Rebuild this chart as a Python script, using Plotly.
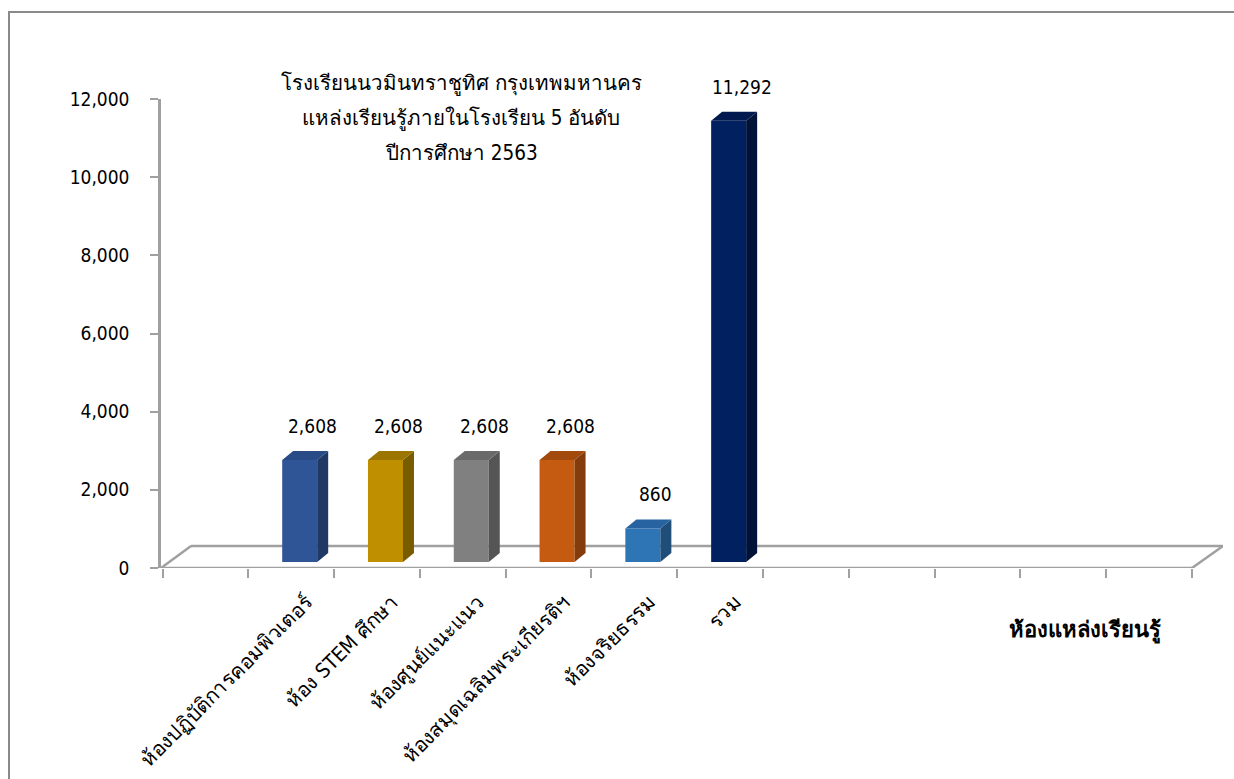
import plotly.graph_objects as go

# ---------------- data ----------------
categories = [
    "ห้องปฏิบัติการคอมพิวเตอร์",
    "ห้อง STEM ศึกษา",
    "ห้องศูนย์แนะแนว",
    "ห้องสมุดเฉลิมพระเกียรติฯ",
    "ห้องจริยธรรม",
    "รวม",
]
values = [2608, 2608, 2608, 2608, 860, 11292]
front_colors = ["#2F5597", "#BF8F00", "#808080", "#C55A11", "#2E75B6", "#002060"]
top_colors = ["#284A86", "#9C7400", "#6A6A6A", "#A2490D", "#2663A0", "#001A50"]
side_colors = ["#203864", "#7A5C00", "#555555", "#843C0C", "#1F4E79", "#001238"]
title_lines = [
    "โรงเรียนนวมินทราชูทิศ กรุงเทพมหานคร",
    "แหล่งเรียนรู้ภายในโรงเรียน 5 อันดับ",
    "ปีการศึกษา 2563",
]
axis_title = "ห้องแหล่งเรียนรู้"
y_tickvals = [0, 2000, 4000, 6000, 8000, 10000, 12000]
n_slots = 12          # category slots on the axis (first slot empty)
first_slot = 1

# ---------------- layout geometry (pixels) ----------------
W, H = 1234, 779
PL, PR, PT, PB = 161, 1223, 99, 568
X0_PX, X12_PX = 162.5, 1192.0
ux = (X12_PX - X0_PX) / n_slots            # px per category
x_min = -(X0_PX - PL) / ux
x_max = n_slots + (PR - X12_PX) / ux
Y_MAX = 12000
uy = (PB - PT) / Y_MAX                    # px per value unit
base_off = 6 / uy                         # bars sit 6px above front axis
bar_w = 35 / ux
front_shift = 8.5 / ux
dx = 11 / ux
dy = 9 / uy
floor_dx = 30 / ux
floor_dy = 22 / uy

FONT = "Tahoma, 'DejaVu Sans Condensed', 'DejaVu Sans', sans-serif"
GRAY = "#A0A0A0"


def px_x(p):
    return (p - PL) / (PR - PL)


def px_y(p):
    return (PB - p) / (PB - PT)


fig = go.Figure()

shapes = []
# floor outline
for (xa, ya, xb, yb) in [
    (x_min, 0, n_slots, 0),
    (x_min + floor_dx, floor_dy, x_max, floor_dy),
    (x_min, 0, x_min + floor_dx, floor_dy),
    (n_slots, 0, x_max, floor_dy),
]:
    shapes.append(dict(type="line", xref="x", yref="y", x0=xa, y0=ya, x1=xb, y1=yb,
                       line=dict(color=GRAY, width=2.5), layer="below"))
# chart border
shapes.append(dict(type="rect", xref="paper", yref="paper",
                   x0=px_x(9), x1=px_x(W + 20), y0=px_y(H + 20), y1=px_y(12),
                   line=dict(color="#8A8A8A", width=2), fillcolor="rgba(0,0,0,0)", layer="below"))

xs = [first_slot + i + 0.5 + front_shift for i in range(len(categories))]

# front faces
fig.add_trace(go.Bar(
    x=xs, y=values, base=base_off, width=bar_w,
    marker=dict(color=front_colors, line=dict(width=0)),
    hoverinfo="skip", showlegend=False,
))

annotations = []
for i, (xc, v) in enumerate(zip(xs, values)):
    xl, xr = xc - bar_w / 2, xc + bar_w / 2
    b, t = base_off, base_off + v
    # side face
    fig.add_trace(go.Scatter(
        x=[xr, xr + dx, xr + dx, xr, xr], y=[b, b + dy, t + dy, t, b],
        mode="lines", fill="toself",
        fillcolor=side_colors[i], line=dict(width=0), hoverinfo="skip", showlegend=False))
    # top face
    fig.add_trace(go.Scatter(
        x=[xl, xl + dx, xr + dx, xr, xl], y=[t, t + dy, t + dy, t, t],
        mode="lines", fill="toself",
        fillcolor=top_colors[i], line=dict(width=0), hoverinfo="skip", showlegend=False))
    annotations.append(dict(
        x=xc, y=t, xref="x", yref="y", text=f"{v:,}", showarrow=False,
        xshift=13, yshift=34, yanchor="middle", xanchor="center",
        font=dict(family=FONT, size=19, color="#000000")))

title_y = [83, 118, 153]
for line, yy in zip(title_lines, title_y):
    annotations.append(dict(
        x=px_x(461), y=px_y(yy), xref="paper", yref="paper", text=line,
        showarrow=False, xanchor="center", yanchor="middle",
        font=dict(family=FONT, size=20.5, color="#000000")))

annotations.append(dict(
    x=px_x(1085), y=px_y(630), xref="paper", yref="paper", text=f"<b>{axis_title}</b>",
    showarrow=False, xanchor="center", yanchor="middle",
    font=dict(family=FONT, size=22, color="#000000")))

fig.update_layout(
    width=W, height=H, autosize=False,
    margin=dict(l=PL, r=W - PR, t=PT, b=H - PB, pad=0, autoexpand=False),
    paper_bgcolor="white", plot_bgcolor="white",
    showlegend=False,
    shapes=shapes,
    annotations=annotations,
    xaxis=dict(
        range=[x_min, x_max], tickmode="array", automargin=False,
        tickvals=[x + 0.08 for x in xs], ticktext=categories,
        tickangle=-45, ticks="", showline=False, showgrid=False, zeroline=False,
        ticklabelstandoff=17,
        tickfont=dict(family=FONT, size=20.5, color="#000000"),
        minor=dict(tickmode="array", tickvals=list(range(n_slots + 1)),
                   ticks="outside", ticklen=9, tickwidth=2, tickcolor=GRAY, showgrid=False),
    ),
    yaxis=dict(
        range=[0, Y_MAX], tickmode="array", tickvals=y_tickvals, automargin=False,
        tickformat=",d", ticks="outside", ticklen=8, tickwidth=2, tickcolor=GRAY,
        showline=True, linecolor=GRAY, linewidth=2.5, showgrid=False, zeroline=False,
        ticklabelstandoff=17,
        tickfont=dict(family=FONT, size=19, color="#000000"),
    ),
)

fig.write_html("out.html", config={"displayModeBar": False},
               post_script="document.body.style.margin='0';")
